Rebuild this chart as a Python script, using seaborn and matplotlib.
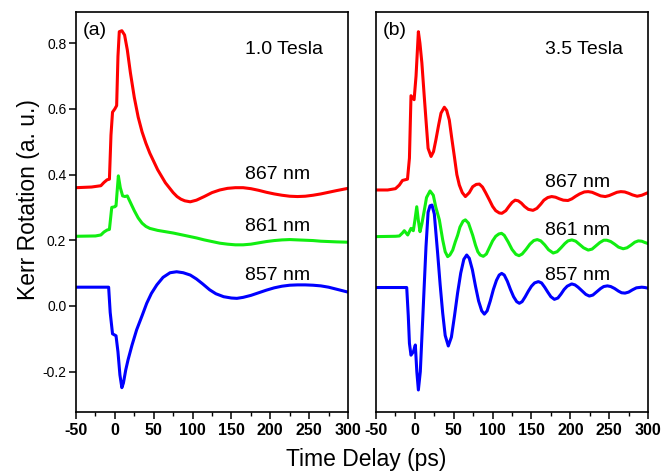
import matplotlib
matplotlib.use('Agg')
import matplotlib.pyplot as plt
from matplotlib.ticker import MultipleLocator
import seaborn as sns
import pandas as pd

# valores (Kerr rotation, unidades arbitrárias)
# painel (a) - 1.0 Tesla
t_a_867 = [-50, -30, -18, -14, -10, -7, -5, -3, 0, 2.3, 4, 5.7, 9, 12.5, 16, 20, 25, 30, 35, 40,
           45, 50, 55, 60, 65, 70, 75, 80, 85, 90, 97, 105, 115, 125, 135, 145, 155, 165, 175,
           185, 195, 205, 215, 225, 235, 245, 255, 265, 275, 285, 300]
y_a_867 = [0.360, 0.362, 0.366, 0.376, 0.384, 0.386, 0.52, 0.59, 0.60, 0.61, 0.76, 0.835, 0.838, 0.825,
           0.78, 0.71, 0.635, 0.575, 0.53, 0.495, 0.465, 0.44, 0.415, 0.395, 0.375, 0.36, 0.345,
           0.333, 0.325, 0.320, 0.317, 0.322, 0.333, 0.345, 0.353, 0.358, 0.360, 0.360, 0.357,
           0.352, 0.346, 0.341, 0.337, 0.334, 0.333, 0.334, 0.337, 0.341, 0.346, 0.351, 0.358]

t_a_861 = [-50, -25, -18, -14, -10, -7, -4, 0, 1.5, 4.5, 7, 10, 13, 16, 20, 25, 30, 35, 40, 45,
           55, 65, 75, 85, 95, 105, 115, 125, 135, 145, 155, 165, 175, 185, 195, 205, 215, 225,
           235, 245, 255, 265, 275, 285, 300]
y_a_861 = [0.212, 0.213, 0.216, 0.225, 0.231, 0.233, 0.300, 0.302, 0.305, 0.396, 0.36, 0.335, 0.333,
           0.335, 0.315, 0.29, 0.268, 0.252, 0.242, 0.236, 0.230, 0.226, 0.222, 0.217, 0.212,
           0.207, 0.201, 0.196, 0.191, 0.188, 0.186, 0.186, 0.188, 0.192, 0.196, 0.199, 0.201,
           0.202, 0.201, 0.200, 0.199, 0.197, 0.196, 0.195, 0.194]

t_a_857 = [-50, -20, -8, -6, -3, 1.5, 4, 6.5, 9, 11, 14, 17, 22, 28, 35, 41, 47, 54, 62, 71,
           79.5, 88, 97, 105, 113, 122, 130, 140, 150, 157, 165, 175, 185, 195, 205, 215, 225,
           235, 245, 255, 265, 275, 285, 300]
y_a_857 = [0.057, 0.057, 0.057, -0.02, -0.085, -0.091, -0.14, -0.21, -0.249, -0.235, -0.195, -0.164,
           -0.12, -0.073, -0.03, 0.008, 0.038, 0.064, 0.087, 0.101, 0.104, 0.101, 0.094, 0.082,
           0.067, 0.049, 0.037, 0.028, 0.024, 0.023, 0.026, 0.032, 0.040, 0.048, 0.055, 0.060,
           0.063, 0.064, 0.064, 0.063, 0.061, 0.057, 0.051, 0.042]

# painel (b) - 3.5 Tesla
t_b_867 = [-50, -35, -25, -20, -16, -9.5, -7, -5, -1, 1.5, 4.5, 6.5, 9, 12, 14.3, 17, 20.8, 24,
           27, 30.5, 33.6, 37.9, 41, 44.3, 47.5, 50.8, 54, 57.2, 61, 65, 70, 74.4, 79, 83, 87, 91,
           95.8, 100, 104, 108.7, 112, 117, 121, 125, 129, 133, 137, 141, 146, 152, 157, 162,
           166, 171, 176, 181, 186, 191, 197, 202, 207, 212, 218, 223, 228, 234, 239, 245, 250,
           255, 260, 265, 270, 275, 280, 286, 292, 296, 300]
y_b_867 = [0.353, 0.353, 0.357, 0.368, 0.382, 0.386, 0.45, 0.64, 0.628, 0.70, 0.835, 0.80, 0.74,
           0.64, 0.566, 0.48, 0.455, 0.47, 0.505, 0.55, 0.587, 0.605, 0.595, 0.566, 0.51, 0.455,
           0.40, 0.368, 0.345, 0.333, 0.345, 0.363, 0.370, 0.371, 0.362, 0.345, 0.323, 0.303,
           0.29, 0.283, 0.282, 0.29, 0.303, 0.315, 0.322, 0.320, 0.313, 0.303, 0.294, 0.291,
           0.297, 0.31, 0.322, 0.33, 0.333, 0.331, 0.326, 0.322, 0.321, 0.326, 0.334, 0.341,
           0.347, 0.348, 0.346, 0.340, 0.335, 0.333, 0.336, 0.341, 0.346, 0.348, 0.347, 0.343,
           0.338, 0.334, 0.337, 0.341, 0.345]

t_b_861 = [-50, -25, -20, -16, -13.6, -9.2, -5, -2, 0, 2.4, 4.5, 6.6, 9, 12.2, 15, 19.5, 23.7, 27,
           31.5, 35.8, 39, 42.2, 45, 48.7, 52, 55, 58, 62, 65, 69, 74.4, 78, 81, 84, 88, 92, 96,
           100, 104, 108, 111.5, 115, 120, 125, 130, 134, 138, 143, 148, 153, 157.5, 162, 167,
           172, 178, 183, 188, 193, 197, 202, 207, 212, 217, 223, 228, 233, 238, 243, 247, 252,
           257, 262, 268, 273, 278, 283, 287.5, 292, 296, 300]
y_b_861 = [0.211, 0.212, 0.213, 0.222, 0.229, 0.216, 0.236, 0.229, 0.26, 0.302, 0.26, 0.226, 0.25,
           0.292, 0.33, 0.350, 0.337, 0.30, 0.262, 0.201, 0.165, 0.150, 0.155, 0.17, 0.195,
           0.215, 0.24, 0.258, 0.262, 0.252, 0.215, 0.185, 0.165, 0.155, 0.151, 0.158, 0.178,
           0.198, 0.212, 0.219, 0.221, 0.215, 0.195, 0.172, 0.157, 0.153, 0.158, 0.172, 0.188,
           0.199, 0.202, 0.198, 0.186, 0.171, 0.161, 0.165, 0.177, 0.19, 0.198, 0.201, 0.197,
           0.187, 0.177, 0.170, 0.173, 0.183, 0.193, 0.20, 0.20, 0.196, 0.188, 0.179, 0.174,
           0.177, 0.185, 0.194, 0.198, 0.197, 0.193, 0.19]

t_b_857 = [-50, -20, -10.5, -8.5, -7, -5, -2, 0.6, 2.5, 4.5, 7, 10, 12, 14.3, 17, 19.5, 22, 25,
           29.3, 32.5, 35.8, 39, 43, 47, 51, 55, 59, 63, 66.7, 70, 74, 78, 82, 86, 89.4, 93, 97,
           101, 105, 108.5, 111.7, 115, 119, 123, 127, 131, 134.4, 138, 142, 146, 150, 154,
           158.9, 163, 167, 171, 175, 179.5, 184, 188, 192, 196, 201.8, 206, 210, 215, 220,
           224.5, 229, 234, 239, 243, 247.7, 252, 257, 262, 266, 270.4, 275, 280, 285, 291.9,
           296, 300]
y_b_857 = [0.056, 0.056, 0.056, -0.03, -0.114, -0.150, -0.140, -0.119, -0.20, -0.256, -0.20,
           -0.045, 0.06, 0.18, 0.285, 0.305, 0.307, 0.28, 0.16, 0.065, -0.022, -0.09, -0.122,
           -0.095, -0.03, 0.04, 0.10, 0.142, 0.155, 0.145, 0.11, 0.06, 0.015, -0.015, -0.025,
           -0.015, 0.015, 0.05, 0.078, 0.094, 0.099, 0.094, 0.075, 0.05, 0.028, 0.013, 0.008,
           0.013, 0.028, 0.045, 0.06, 0.07, 0.074, 0.07, 0.057, 0.042, 0.028, 0.020, 0.024,
           0.036, 0.05, 0.06, 0.067, 0.064, 0.057, 0.046, 0.035, 0.030, 0.033, 0.043, 0.053,
           0.059, 0.061, 0.059, 0.053, 0.045, 0.04, 0.039, 0.042, 0.049, 0.055, 0.057, 0.056,
           0.054]

wavelengths = ['867 nm', '861 nm', '857 nm']
cores = ['#ff0000', '#11ee11', '#0000ff']
paineis = ['(a)', '(b)']
campos = ['1.0 Tesla', '3.5 Tesla']
label_y = [[0.399, 0.242, 0.094], [0.377, 0.230, 0.094]]

dados = [
    [(t_a_867, y_a_867), (t_a_861, y_a_861), (t_a_857, y_a_857)],
    [(t_b_867, y_b_867), (t_b_861, y_b_861), (t_b_857, y_b_857)],
]

sns.set_style('ticks')
plt.rcParams['font.family'] = ['Liberation Sans', 'DejaVu Sans']
plt.rcParams['axes.unicode_minus'] = False   # hífen no lugar do sinal de menos
plt.rcParams['text.color'] = 'black'
plt.rcParams['xtick.color'] = 'black'
plt.rcParams['ytick.color'] = 'black'

fig = plt.figure(figsize=(6.62, 4.76), dpi=100)
ax_a = fig.add_axes([0.1148, 0.1345, 0.4109, 0.8403])
ax_b = fig.add_axes([0.5680, 0.1345, 0.4109, 0.8403])

for i, ax in enumerate([ax_a, ax_b]):
    for (t, y), cor in zip(dados[i], cores):
        df = pd.DataFrame({'t': t, 'kerr': y})
        sns.lineplot(data=df, x='t', y='kerr', ax=ax, color=cor, linewidth=2.2, sort=False)
    ax.set_xlim(-50, 300)
    ax.set_ylim(-0.323, 0.895)
    ax.set_xlabel('')
    ax.set_ylabel('')
    ax.xaxis.set_major_locator(MultipleLocator(50))
    ax.xaxis.set_minor_locator(MultipleLocator(25))
    ax.yaxis.set_major_locator(MultipleLocator(0.2))
    for s in ax.spines.values():
        s.set_visible(True)
        s.set_linewidth(1.2)
        s.set_color('black')
    ax.tick_params(axis='x', which='major', direction='out', length=5, width=1.1,
                   labelsize=11.5, pad=3, colors='black')
    ax.tick_params(axis='x', which='minor', direction='out', length=3, width=1.0, colors='black')
    ax.tick_params(axis='y', which='major', direction='out', length=5, width=1.1,
                   labelsize=10, pad=2, colors='black')
    for lbl in ax.get_xticklabels():
        lbl.set_fontweight('bold')
    ax.text(0.025, 0.975, paineis[i], transform=ax.transAxes, fontsize=14,
            ha='left', va='top', color='black')
    ax.text(167, 0.78, campos[i], fontsize=14, ha='left', va='center', color='black')
    for nome, yy in zip(wavelengths, label_y[i]):
        ax.text(168, yy, nome, fontsize=14, ha='left', va='center', color='black')

ax_b.tick_params(axis='y', which='both', left=False, labelleft=False)

fig.text(0.553, 0.01, 'Time Delay (ps)', ha='center', va='bottom', fontsize=16.5, color='black')
fig.text(0.026, 0.58, 'Kerr Rotation (a. u.)', ha='left', va='center',
         rotation=90, fontsize=16.5, color='black')

fig.savefig('out.png', dpi=100)
